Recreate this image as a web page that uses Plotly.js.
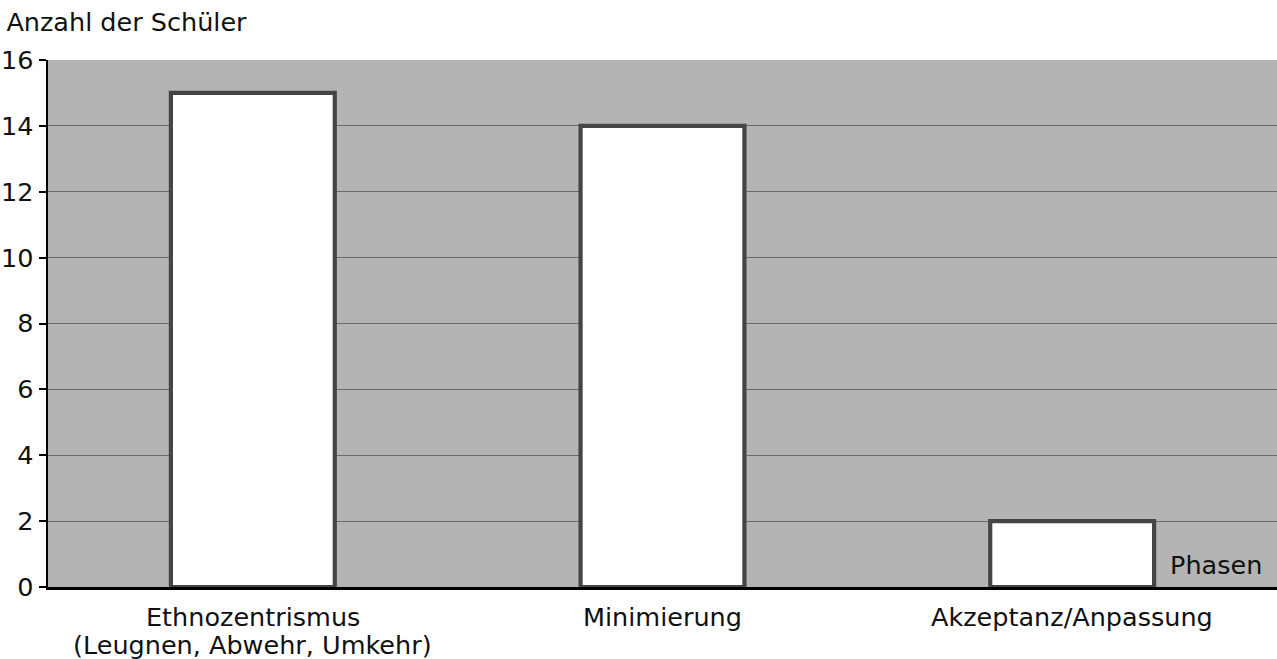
<!DOCTYPE html>
<html>
<head>
<meta charset="utf-8">
<script src="https://cdn.plot.ly/plotly-3.0.1.min.js"></script>
<style>html,body{margin:0;padding:0;background:#fff;}#chart{width:1277px;height:659px;}</style>
</head>
<body>
<div id="chart"></div>
<script>
const categories = ["Ethnozentrismus<br>(Leugnen, Abwehr, Umkehr)", "Minimierung", "Akzeptanz/Anpassung"];
const counts = [15, 14, 2];
const yTicks = [0, 2, 4, 6, 8, 10, 12, 14, 16];

const FONT = "DejaVu Sans, Liberation Sans, Arial, sans-serif";
const FS = 25.5;

const trace = {
  type: "bar",
  x: categories,
  y: counts,
  width: 0.4,
  marker: {color: "#ffffff", line: {color: "#454545", width: 4.2}},
  hoverinfo: "skip"
};

// category labels drawn as annotations (one per line) to match tight line spacing
const labelAnnotations = [];
categories.forEach(function (cat) {
  cat.split("<br>").forEach(function (line, i) {
    labelAnnotations.push({
      text: line,
      xref: "x", x: cat, xanchor: "center",
      yref: "paper", y: 0, yanchor: "middle",
      yshift: -(30 + i * 28),
      showarrow: false,
      font: {family: FONT, size: FS, color: "#111"}
    });
  });
});

const layout = {
  width: 1277, height: 659,
  margin: {l: 48, r: 0, t: 60, b: 72},
  paper_bgcolor: "#ffffff",
  plot_bgcolor: "#b4b4b4",
  showlegend: false,
  font: {family: FONT, size: FS, color: "#111"},
  title: {
    text: "Anzahl der Schüler",
    font: {family: FONT, size: FS, color: "#111"},
    xref: "container", x: 0.005, xanchor: "left",
    yref: "container", y: 0.967, yanchor: "middle"
  },
  xaxis: {
    type: "category",
    range: [-0.5, 2.5],
    showgrid: false,
    showline: true, linecolor: "#000", linewidth: 2.5,
    ticks: "",
    showticklabels: false,
    zeroline: false,
    fixedrange: true
  },
  yaxis: {
    range: [0, 16],
    tickvals: yTicks,
    ticktext: yTicks.map(String),
    showgrid: true, gridcolor: "#6a6a6a", gridwidth: 1.2,
    showline: true, linecolor: "#000", linewidth: 2.5,
    ticks: "outside", ticklen: 7, tickwidth: 2, tickcolor: "#000",
    tickfont: {family: FONT, size: FS, color: "#111"},
    zeroline: false,
    fixedrange: true
  },
  annotations: labelAnnotations.concat([{
    text: "Phasen",
    xref: "paper", x: 0.9895, xanchor: "right",
    yref: "y", y: 0.67, yanchor: "middle",
    showarrow: false,
    font: {family: FONT, size: FS, color: "#111"}
  }])
};

Plotly.newPlot("chart", [trace], layout, {displayModeBar: false, staticPlot: true});
</script>
</body>
</html>
